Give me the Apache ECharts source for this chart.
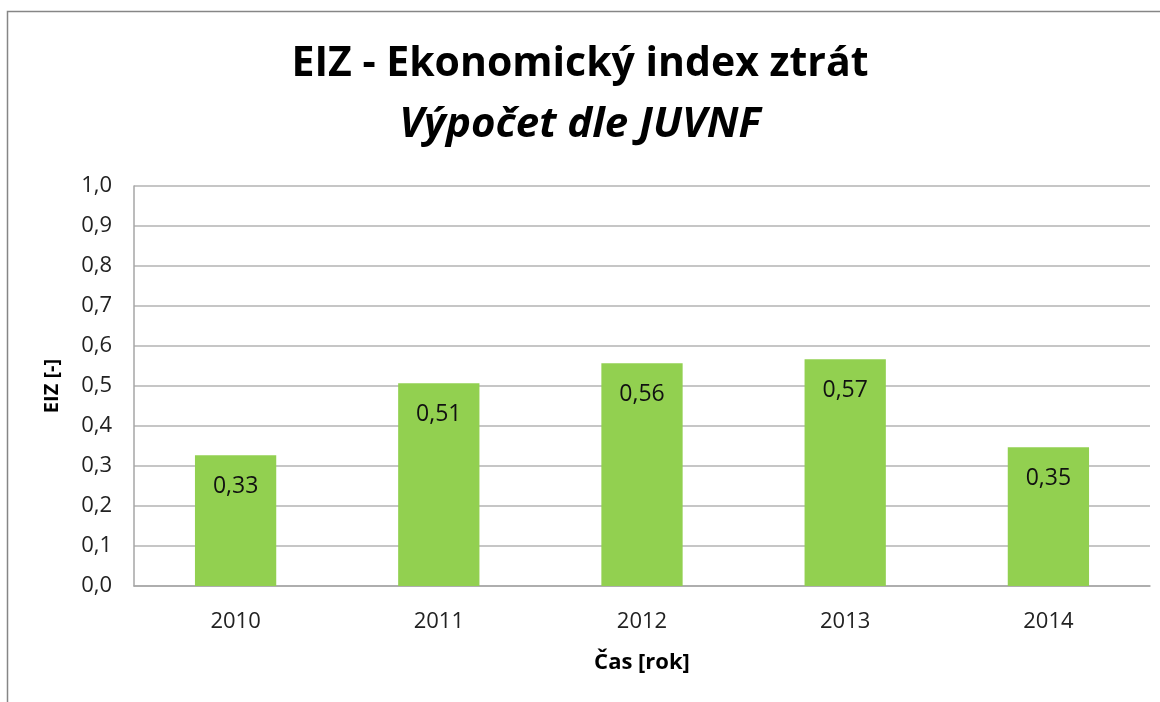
<!DOCTYPE html>
<html>
<head>
<meta charset="utf-8">
<script src="https://cdn.jsdelivr.net/npm/echarts@6/dist/echarts.min.js"></script>
<style>
html, body { margin: 0; padding: 0; background: #fff; }
#echart { width: 1160px; height: 702px; }
</style>
</head>
<body>
<div id="echart"></div>
<script>
// data
const years = ['2010', '2011', '2012', '2013', '2014']
const eizValues = [0.327, 0.507, 0.557, 0.567, 0.347]
const yTicks = ['0,0', '0,1', '0,2', '0,3', '0,4', '0,5', '0,6', '0,7', '0,8', '0,9', '1,0']

const font = 'Open Sans'
const myChart = echarts.init(document.getElementById('echart'))
myChart.setOption({
  animation: false,
  graphic: [{
    type: 'rect',
    shape: { x: 7.5, y: 11.5, width: 1300, height: 800 },
    style: { fill: 'none', stroke: '#868686', lineWidth: 1.5 },
    silent: true
  }],
  title: [{
    text: 'EIZ - Ekonomický index ztrát',
    left: 'center',
    top: 39,
    textStyle: { fontFamily: font, fontSize: 41, fontWeight: 'bold', color: '#000' }
  }, {
    text: 'Výpočet dle JUVNF',
    left: 'center',
    top: 99,
    textStyle: { fontFamily: font, fontSize: 42, fontWeight: 'bold', fontStyle: 'italic', color: '#000' }
  }],
  grid: {
    left: 134,
    right: 10,
    top: 186,
    bottom: 116,
    show: true,
    borderColor: '#a6a6a6',
    borderWidth: 0
  },
  xAxis: {
    type: 'category',
    data: years,
    name: 'Čas [rok]',
    nameLocation: 'middle',
    nameGap: 66,
    nameTextStyle: { fontFamily: font, fontSize: 22, fontWeight: 'bold', color: '#000' },
    axisLine: { lineStyle: { color: '#a6a6a6', width: 1.5 } },
    axisTick: { show: false },
    axisLabel: { fontFamily: font, fontSize: 22, color: '#222', margin: 25 }
  },
  yAxis: {
    type: 'value',
    min: 0,
    max: 1,
    interval: 0.1,
    name: 'EIZ [-]',
    nameLocation: 'middle',
    nameGap: 72,
    nameTextStyle: { fontFamily: font, fontSize: 20, fontWeight: 'bold', color: '#000' },
    axisLine: { show: true, lineStyle: { color: '#a6a6a6', width: 1.5 } },
    axisTick: { show: false },
    splitLine: { lineStyle: { color: '#b3b3b3', width: 1.5 } },
    axisLabel: {
      fontFamily: font,
      fontSize: 22,
      color: '#222',
      margin: 22,
      formatter: function (v) { return yTicks[Math.round(v * 10)] }
    }
  },
  series: [{
    type: 'bar',
    data: eizValues,
    barWidth: '40%',
    itemStyle: { color: '#92d050' },
    label: {
      show: true,
      position: 'insideTop',
      distance: 20,
      fontFamily: font,
      fontSize: 23,
      color: '#111',
      formatter: function (p) { return p.value.toFixed(2).replace('.', ',') }
    }
  }]
})
</script>
</body>
</html>
